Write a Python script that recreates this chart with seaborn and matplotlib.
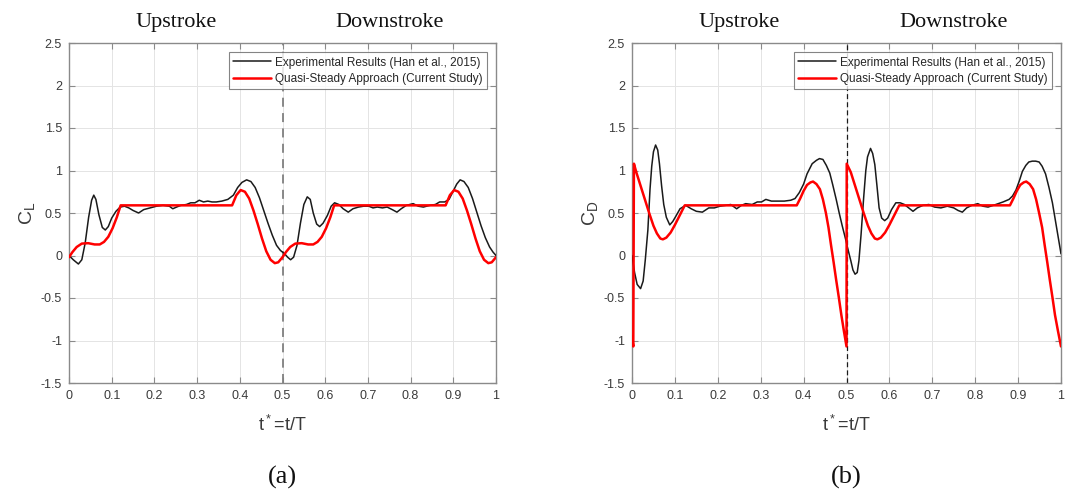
import numpy as np
import pandas as pd
import matplotlib
matplotlib.use("Agg")
import matplotlib.pyplot as plt
import seaborn as sns

# ---------------------------------------------------------------- data
# Lift coefficient, experimental (Han et al., 2015)
cl_exp_t = [0.000, 0.010, 0.022, 0.030, 0.038, 0.046, 0.053, 0.058, 0.063, 0.070,
            0.078, 0.085, 0.092, 0.100, 0.110, 0.120, 0.130, 0.140, 0.150, 0.163,
            0.175, 0.190, 0.205, 0.220, 0.235, 0.243, 0.252, 0.262, 0.275, 0.285,
            0.295, 0.305, 0.315, 0.325, 0.335, 0.345, 0.358, 0.372, 0.385, 0.395,
            0.405, 0.416, 0.426, 0.436, 0.446, 0.456, 0.466, 0.476, 0.486, 0.495,
            0.505, 0.512, 0.519, 0.526, 0.534, 0.542, 0.550, 0.558, 0.565, 0.572,
            0.580, 0.587, 0.595, 0.605, 0.614, 0.622, 0.632, 0.642, 0.654, 0.665,
            0.678, 0.690, 0.702, 0.712, 0.722, 0.734, 0.745, 0.757, 0.768, 0.778,
            0.790, 0.806, 0.818, 0.830, 0.845, 0.858, 0.868, 0.880, 0.890, 0.900,
            0.908, 0.916, 0.925, 0.935, 0.945, 0.955, 0.965, 0.975, 0.985, 0.993,
            1.000]
cl_exp = [0.00, -0.05, -0.10, -0.05, 0.15, 0.45, 0.65, 0.71, 0.66, 0.48,
          0.33, 0.30, 0.34, 0.44, 0.52, 0.57, 0.58, 0.56, 0.53, 0.50,
          0.54, 0.56, 0.58, 0.59, 0.58, 0.55, 0.57, 0.59, 0.60, 0.62,
          0.62, 0.65, 0.63, 0.64, 0.63, 0.63, 0.64, 0.66, 0.71, 0.80,
          0.86, 0.89, 0.87, 0.80, 0.68, 0.53, 0.38, 0.24, 0.12, 0.06,
          0.02, -0.02, -0.05, -0.02, 0.12, 0.38, 0.60, 0.69, 0.66, 0.50,
          0.37, 0.34, 0.38, 0.47, 0.58, 0.62, 0.60, 0.55, 0.51, 0.55,
          0.57, 0.58, 0.58, 0.56, 0.57, 0.56, 0.57, 0.54, 0.51, 0.55,
          0.59, 0.61, 0.58, 0.57, 0.59, 0.60, 0.63, 0.63, 0.66, 0.76,
          0.84, 0.89, 0.87, 0.80, 0.67, 0.51, 0.35, 0.21, 0.10, 0.04,
          0.00]

# Lift coefficient, quasi-steady model
cl_qs_t = [0.000, 0.008, 0.018, 0.030, 0.045, 0.060, 0.072, 0.082, 0.092, 0.102,
           0.112, 0.121, 0.382, 0.392, 0.402, 0.412, 0.422, 0.432, 0.442, 0.452,
           0.462, 0.472, 0.482, 0.490, 0.500,
           0.508, 0.518, 0.530, 0.545, 0.560, 0.572, 0.582, 0.592, 0.602,
           0.612, 0.621, 0.882, 0.892, 0.902, 0.912, 0.922, 0.932, 0.942, 0.952,
           0.962, 0.972, 0.982, 0.990, 1.000]
cl_qs = [-0.02, 0.04, 0.10, 0.14, 0.145, 0.13, 0.13, 0.16, 0.22, 0.32,
         0.45, 0.59, 0.59, 0.71, 0.77, 0.75, 0.67, 0.53, 0.37, 0.20,
         0.05, -0.05, -0.09, -0.08, -0.02,
         0.04, 0.10, 0.14, 0.145, 0.13, 0.13, 0.16, 0.22, 0.32,
         0.45, 0.59, 0.59, 0.71, 0.77, 0.75, 0.67, 0.53, 0.37, 0.20,
         0.05, -0.05, -0.09, -0.08, -0.02]

# Drag coefficient, experimental (Han et al., 2015)
cd_exp_t = [0.000, 0.006, 0.012, 0.020, 0.026, 0.031, 0.037, 0.042, 0.046, 0.050,
            0.055, 0.060, 0.064, 0.069, 0.074, 0.080, 0.088, 0.095, 0.102, 0.112,
            0.125, 0.138, 0.150, 0.164, 0.179, 0.192, 0.205, 0.218, 0.230, 0.244,
            0.255, 0.265, 0.280, 0.292, 0.302, 0.312, 0.325, 0.340, 0.355, 0.370,
            0.380, 0.390, 0.400, 0.408, 0.420, 0.430, 0.437, 0.445, 0.453, 0.461,
            0.468, 0.476, 0.483, 0.490, 0.498, 0.504, 0.510, 0.515, 0.520, 0.525,
            0.529, 0.534, 0.540, 0.545, 0.549, 0.556, 0.561, 0.566, 0.571, 0.576,
            0.582, 0.589, 0.596, 0.605, 0.615, 0.625, 0.635, 0.645, 0.655, 0.665,
            0.678, 0.692, 0.705, 0.720, 0.735, 0.750, 0.760, 0.770, 0.780, 0.792,
            0.806, 0.818, 0.830, 0.848, 0.865, 0.879, 0.887, 0.895, 0.903, 0.910,
            0.918, 0.925, 0.933, 0.941, 0.949, 0.956, 0.964, 0.972, 0.980, 0.987,
            0.994, 1.000]
cd_exp = [0.00, -0.20, -0.34, -0.39, -0.30, -0.05, 0.30, 0.78, 1.05, 1.22,
          1.30, 1.24, 1.08, 0.82, 0.60, 0.45, 0.36, 0.40, 0.46, 0.55,
          0.59, 0.55, 0.52, 0.51, 0.56, 0.56, 0.58, 0.59, 0.60, 0.55,
          0.59, 0.61, 0.60, 0.63, 0.63, 0.66, 0.64, 0.64, 0.64, 0.65,
          0.67, 0.74, 0.84, 0.96, 1.08, 1.12, 1.14, 1.13, 1.06, 0.97,
          0.83, 0.66, 0.50, 0.35, 0.19, 0.06, -0.06, -0.17, -0.22, -0.20,
          -0.06, 0.25, 0.68, 1.00, 1.16, 1.26, 1.20, 1.07, 0.82, 0.56,
          0.44, 0.41, 0.44, 0.54, 0.62, 0.62, 0.60, 0.56, 0.52, 0.56,
          0.59, 0.60, 0.57, 0.56, 0.58, 0.56, 0.53, 0.51, 0.56, 0.59,
          0.61, 0.58, 0.57, 0.60, 0.63, 0.66, 0.70, 0.77, 0.88, 0.99,
          1.06, 1.10, 1.11, 1.11, 1.10, 1.05, 0.96, 0.80, 0.62, 0.41,
          0.20, 0.02]

# Drag coefficient, quasi-steady model
cd_qs_t = [0.000, 0.003, 0.0045, 0.010, 0.020, 0.030, 0.040, 0.050, 0.058, 0.066,
           0.072, 0.080, 0.090, 0.100, 0.110, 0.118, 0.123, 0.384, 0.392, 0.400,
           0.408, 0.416, 0.422, 0.430, 0.438, 0.445, 0.452, 0.458, 0.464, 0.470,
           0.476, 0.482, 0.488, 0.494, 0.500,
           0.5005, 0.510, 0.520, 0.530, 0.540, 0.550, 0.558, 0.566, 0.572,
           0.580, 0.590, 0.600, 0.610, 0.618, 0.623, 0.881, 0.889, 0.897,
           0.905, 0.913, 0.919, 0.927, 0.935, 0.942, 0.949, 0.956, 0.962,
           0.968, 0.974, 0.980, 0.986, 0.993, 1.000]
cd_qs = [-0.95, -1.07, 1.08, 0.98, 0.82, 0.66, 0.50, 0.35, 0.26, 0.20,
         0.19, 0.21, 0.27, 0.36, 0.46, 0.54, 0.59, 0.59, 0.67, 0.76,
         0.83, 0.86, 0.87, 0.84, 0.78, 0.66, 0.50, 0.33, 0.12, -0.08,
         -0.29, -0.49, -0.70, -0.89, -1.07,
         1.08, 0.98, 0.82, 0.66, 0.50, 0.35, 0.26, 0.20, 0.19,
         0.21, 0.27, 0.36, 0.46, 0.54, 0.59, 0.59, 0.67, 0.76,
         0.83, 0.86, 0.87, 0.84, 0.78, 0.66, 0.50, 0.33, 0.12,
         -0.08, -0.29, -0.49, -0.70, -0.89, -1.07]

x_ticks = [0, 0.1, 0.2, 0.3, 0.4, 0.5, 0.6, 0.7, 0.8, 0.9, 1]
x_tick_labels = ["0", "0.1", "0.2", "0.3", "0.4", "0.5", "0.6", "0.7", "0.8", "0.9", "1"]
y_ticks = [-1.5, -1, -0.5, 0, 0.5, 1, 1.5, 2, 2.5]
y_tick_labels = ["-1.5", "-1", "-0.5", "0", "0.5", "1", "1.5", "2", "2.5"]

exp_label = "Experimental Results (Han et al., 2015)"
qs_label = "Quasi-Steady Approach (Current Study)"

# ---------------------------------------------------------------- style
sns.set_theme(style="whitegrid")
plt.rcParams["font.family"] = ["Liberation Sans", "DejaVu Sans"]
plt.rcParams["mathtext.default"] = "regular"

fig = plt.figure(figsize=(10.78, 4.92), dpi=100)
W, H = 1078, 492
ax_a = fig.add_axes([69 / W, 1 - 383 / H, 427 / W, 340 / H])
ax_b = fig.add_axes([632 / W, 1 - 383 / H, 429 / W, 340 / H])

SPINE = "#8a8a8a"
TICKTXT = "#3a3a3a"


def draw_panel(ax, t_exp, v_exp, t_qs, v_qs, ylab, dash_kw, panel):
    exp_df = pd.DataFrame({"t": t_exp, "c": v_exp})
    qs_df = pd.DataFrame({"t": t_qs, "c": v_qs})
    ax.axvline(0.5, zorder=1, **dash_kw)
    sns.lineplot(data=exp_df, x="t", y="c", ax=ax, color="#1a1a1a", lw=1.1,
                 estimator=None, sort=False, label=exp_label, zorder=3)
    sns.lineplot(data=qs_df, x="t", y="c", ax=ax, color="#ff0000", lw=1.8,
                 estimator=None, sort=False, label=qs_label, zorder=4)

    ax.set_xlim(0, 1)
    ax.set_ylim(-1.5, 2.5)
    ax.set_xticks(x_ticks)
    ax.set_xticklabels(x_tick_labels)
    ax.set_yticks(y_ticks)
    ax.set_yticklabels(y_tick_labels)
    ax.grid(True, color="#e4e4e4", lw=0.7)
    ax.set_facecolor("white")
    for s in ax.spines.values():
        s.set_visible(True)
        s.set_color(SPINE)
        s.set_linewidth(1.0)
    ax.tick_params(direction="in", length=4, width=0.8, color=SPINE,
                   labelsize=9, labelcolor=TICKTXT, top=True, right=True,
                   bottom=True, left=True, pad=5)

    ax.set_xlabel(r"$t^*$=t/T", fontsize=13, color="#3a3a3a")
    ax.xaxis.set_label_coords(0.5, -0.093)
    ax.set_ylabel(ylab, fontsize=14, color="#3a3a3a")
    ax.yaxis.set_label_coords(-0.075, 0.5)

    leg = ax.legend(loc="upper right", fontsize=8.5, frameon=True, fancybox=False,
                    handlelength=3.2, handletextpad=0.3, borderpad=0.35,
                    labelspacing=0.4, borderaxespad=0.8)
    leg.get_frame().set_edgecolor("#666666")
    leg.get_frame().set_linewidth(0.8)
    for txt in leg.get_texts():
        txt.set_color("#262626")

    serif = ["Liberation Serif", "DejaVu Serif"]
    ax.text(0.25, 1.047, "Upstroke", transform=ax.transAxes, ha="center",
            va="baseline", fontsize=16, family=serif, color="#111111")
    ax.text(0.75, 1.047, "Downstroke", transform=ax.transAxes, ha="center",
            va="baseline", fontsize=16, family=serif, color="#111111")
    ax.text(0.5, -0.295, panel, transform=ax.transAxes, ha="center",
            va="baseline", fontsize=19, family=serif, color="#111111")


draw_panel(ax_a, cl_exp_t, cl_exp, cl_qs_t, cl_qs, r"$C_L$",
           dict(color="#808080", lw=1.3, ls=(0, (5, 3.5))), "(a)")
draw_panel(ax_b, cd_exp_t, cd_exp, cd_qs_t, cd_qs, r"$C_D$",
           dict(color="#1a1a1a", lw=0.9, ls=(0, (4, 2.5))), "(b)")

fig.savefig("out.png", dpi=100, facecolor="white")
